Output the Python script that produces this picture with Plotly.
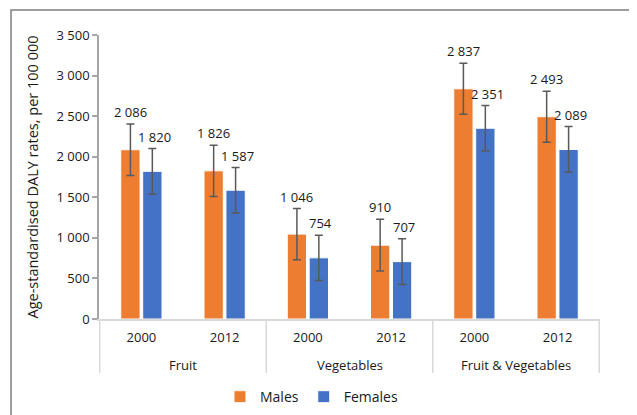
import plotly.graph_objects as go

groups = ["Fruit", "Fruit", "Vegetables", "Vegetables", "Fruit & Vegetables", "Fruit & Vegetables"]
years = ["2000", "2012", "2000", "2012", "2000", "2012"]
males = [2086, 1826, 1046, 910, 2837, 2493]
females = [1820, 1587, 754, 707, 2351, 2089]
males_err = [317, 315, 315, 318, 315, 315]
females_err = [281, 280, 278, 281, 280, 282]
y_ticks = [0, 500, 1000, 1500, 2000, 2500, 3000, 3500]

ORANGE = "#ED7D31"
BLUE = "#4472C4"
FONT = "Open Sans"
TXT = "#1a1a1a"
GRID = "#D9D9D9"

cats = [f"{g} {y}" for g, y in zip(groups, years)]
group_names = list(dict.fromkeys(groups))

fig = go.Figure()
for name, vals, errs, col in [("Males", males, males_err, ORANGE), ("Females", females, females_err, BLUE)]:
    fig.add_trace(go.Bar(
        name=name, x=cats, y=vals,
        marker=dict(color=col, line=dict(color="white", width=1)),
        error_y=dict(type="data", array=errs, visible=True, color="#595959", thickness=1.5, width=4),
    ))

def fmt(v):
    return f"{v:,}".replace(",", " ")

annotations = []
for i in range(len(males)):
    for vals, errs, shift in [(males, males_err, -11), (females, females_err, 13)]:
        annotations.append(dict(
            x=i, y=vals[i] + errs[i], xref="x", yref="y", text=fmt(vals[i]),
            showarrow=False, yanchor="bottom", xanchor="center", xshift=shift, yshift=1,
            font=dict(family=FONT, size=13, color=TXT),
        ))

shapes = []
for gname in group_names:
    idx = [i for i, g in enumerate(groups) if g == gname]
    center = (idx[0] + idx[-1]) / 2
    annotations.append(dict(
        x=center, y=0, xref="x", yref="paper", text=gname, showarrow=False,
        yanchor="middle", xanchor="center", yshift=-46,
        font=dict(family=FONT, size=13, color=TXT),
    ))
    shapes.append(dict(type="line", xref="x", yref="paper", x0=idx[0] - 0.5, x1=idx[0] - 0.5,
                       y0=0, y1=-0.19, line=dict(color=GRID, width=1.5)))
shapes.append(dict(type="line", xref="x", yref="paper", x0=len(cats) - 0.5, x1=len(cats) - 0.5,
                   y0=0, y1=-0.19, line=dict(color=GRID, width=1.5)))
shapes.append(dict(type="rect", xref="paper", yref="paper", x0=-0.1756, x1=1.0699, y0=-0.4, y1=1.088,
                   line=dict(color="#7f7f7f", width=1.5), fillcolor="rgba(0,0,0,0)", layer="below"))

fig.update_layout(
    width=629, height=407,
    margin=dict(l=91, r=37, t=27, b=96),
    paper_bgcolor="white", plot_bgcolor="white",
    barmode="group", bargap=0.473, bargroupgap=0.12,
    separators=". ",
    font=dict(family=FONT, size=13, color=TXT),
    showlegend=True,
    legend=dict(orientation="h", xref="container", yref="container", x=0.4825, y=0.044,
                xanchor="center", yanchor="middle", font=dict(family=FONT, size=14, color=TXT),
                traceorder="normal"),
    annotations=annotations,
    shapes=shapes,
)
fig.update_yaxes(
    range=[0, 3500], tickvals=y_ticks, separatethousands=True,
    showgrid=False, zeroline=False,
    showline=True, linecolor="#A6A6A6", linewidth=1.5,
    ticks="outside", ticklen=5, tickcolor="#A6A6A6", tickwidth=1.5,
    tickfont=dict(family=FONT, size=13, color=TXT),
    title=dict(text="Age-standardised DALY rates, per 100 000", font=dict(family=FONT, size=14.5, color=TXT), standoff=14),
    automargin=False,
)
fig.update_xaxes(
    type="category", categoryorder="array", categoryarray=cats,
    tickvals=cats, ticktext=years,
    showgrid=False, zeroline=False,
    showline=True, linecolor=GRID, linewidth=1.5,
    ticks="outside", ticklen=6, tickcolor="rgba(0,0,0,0)",
    tickfont=dict(family=FONT, size=13, color=TXT),
    automargin=False,
)

fig.write_html("out.html")
